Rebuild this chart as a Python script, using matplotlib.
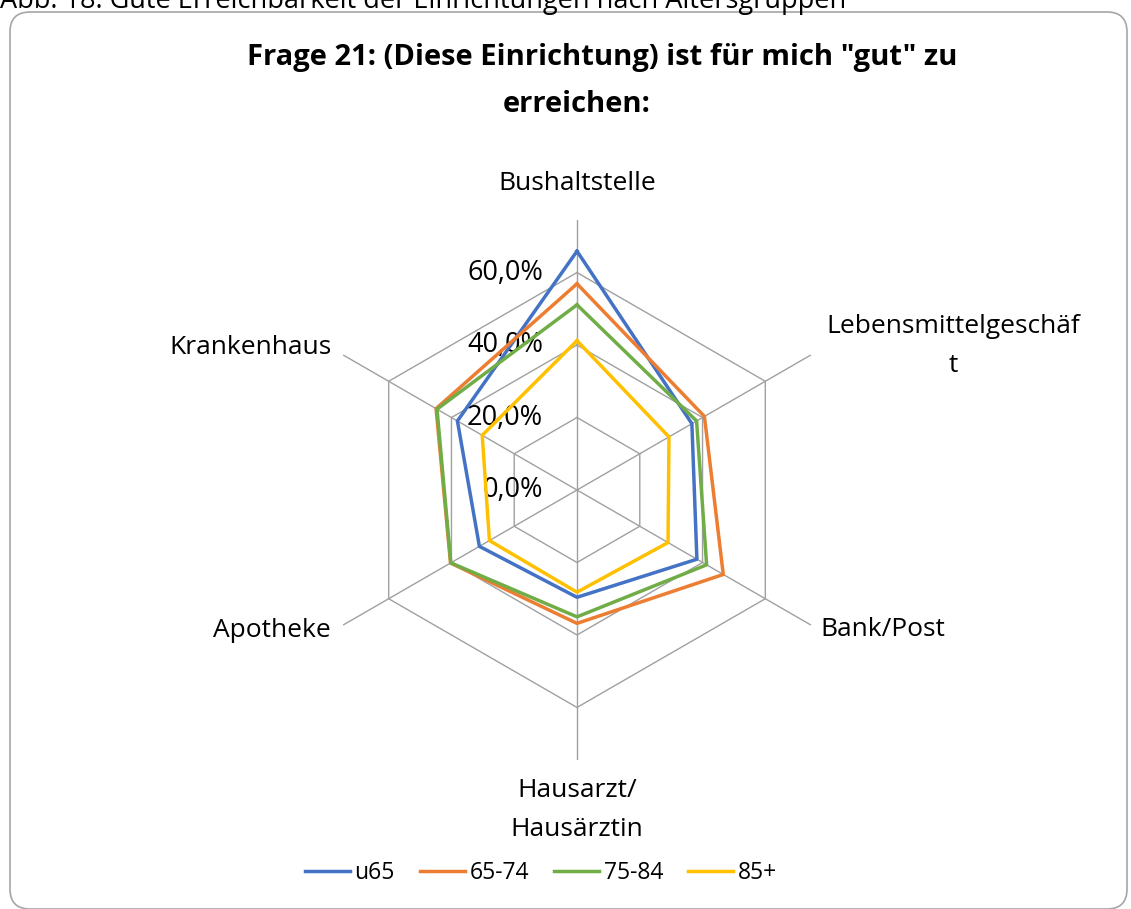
import numpy as np
import matplotlib
matplotlib.use('Agg')
import matplotlib.pyplot as plt
from matplotlib.patches import FancyBboxPatch

plt.rcParams['font.family'] = ['Open Sans', 'DejaVu Sans']

# Data (share of answers "gut")
categories = ['Bushaltstelle', 'Lebensmittelgeschäf\nt', 'Bank/Post',
              'Hausarzt/\nHausärztin', 'Apotheke', 'Krankenhaus']
u65 = [65.9, 36.6, 38.2, 29.6, 31.1, 38.1]
a65_74 = [56.9, 40.6, 46.6, 36.8, 40.3, 44.9]
a75_84 = [51.1, 38.1, 41.3, 35.0, 40.2, 44.6]
a85 = [41.2, 29.3, 29.0, 28.2, 27.9, 30.2]
series_names = ['u65', '65-74', '75-84', '85+']
colors = ['#4472C4', '#ED7D31', '#70AD47', '#FFC000']
ring_values = [0.2, 0.4, 0.6]
ring_labels = ['20,0%', '40,0%', '60,0%']
rmax = 0.745

W, H = 1131, 909
fig = plt.figure(figsize=(W / 100, H / 100), dpi=100)

# background frame + caption
bg = fig.add_axes([0, 0, 1, 1])
bg.set_xlim(0, W)
bg.set_ylim(H, 0)
bg.axis('off')
bg.add_patch(FancyBboxPatch((10, 12), 1117, 897, boxstyle='round,pad=0,rounding_size=20',
                            fc='white', ec='#a6a6a6', lw=1.2))
bg.text(0, 8, 'Abb. 18: Gute Erreichbarkeit der Einrichtungen nach Altersgruppen',
        fontsize=19.5, va='baseline', ha='left')

# title
bg.text(602, 57, 'Frage 21: (Diese Einrichtung) ist für mich "gut" zu',
        fontsize=21, fontweight='bold', ha='center', va='center')
bg.text(577, 105, 'erreichen:', fontsize=21, fontweight='bold', ha='center', va='center')

# radar axes
ax = fig.add_axes([307 / W, 1 - 760 / H, 540 / W, 540 / H], projection='polar')
ax.set_theta_offset(np.pi / 2)
ax.set_theta_direction(-1)
ax.set_ylim(0, rmax)
ax.grid(False)
ax.set_xticks([])
ax.set_yticks([])
ax.spines['polar'].set_visible(False)
ax.patch.set_visible(False)

n = len(categories)
theta = np.arange(n) * 2 * np.pi / n
theta_closed = np.append(theta, theta[0])

# hexagonal grid
for r in ring_values:
    ax.plot(theta_closed, [r] * (n + 1), color='#a0a0a0', lw=1.0, zorder=1)
for t in theta:
    ax.plot([t, t], [0, rmax], color='#a0a0a0', lw=1.0, zorder=1)

# radial labels
for r, lab in zip([0.0] + ring_values, ['0,0%'] + ring_labels):
    ax.annotate(lab, xy=(0, r), xytext=(-34, 0), textcoords='offset pixels',
                ha='right', va='center', fontsize=19.5, annotation_clip=False)

# category labels
offsets = [(0, 37, 'center'), (142, 9, 'center'), (10, -5, 'left'),
           (0, -50, 'center'), (-12, -5, 'right'), (-12, 7, 'right')]
for t, lab, (dx, dy, ha) in zip(theta, categories, offsets):
    ax.annotate(lab, xy=(t, rmax), xytext=(dx, dy), textcoords='offset pixels',
                ha=ha, va='center', fontsize=19, linespacing=1.7,
                multialignment='center', annotation_clip=False)

# series
for vals, name, c in zip([u65, a65_74, a75_84, a85], series_names, colors):
    v = np.array(vals + vals[:1]) / 100
    ax.plot(theta_closed, v, color=c, lw=2.5, label=name, zorder=3, clip_on=False)

handles, labels = ax.get_legend_handles_labels()
fig.legend(handles, labels, loc='center', ncol=4, bbox_to_anchor=(541 / W, 1 - 873 / H),
           frameon=False, fontsize=16.5, handlelength=1.96, handletextpad=0.2,
           columnspacing=1.1)

fig.savefig('out.png', dpi=100)
